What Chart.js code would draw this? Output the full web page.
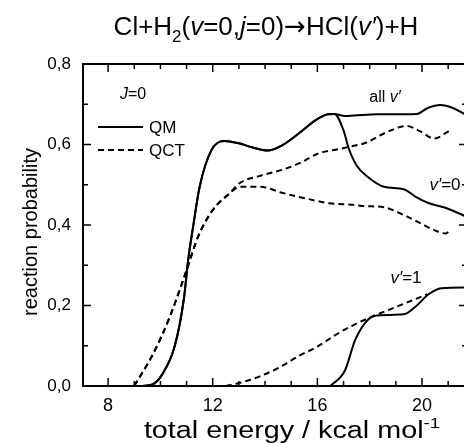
<!DOCTYPE html>
<html>
<head>
<meta charset="utf-8">
<script src="https://cdn.jsdelivr.net/npm/chart.js@4/dist/chart.umd.min.js"></script>
<style>
  html, body { margin: 0; padding: 0; overflow: hidden; background: #fff; }
  #wrap { width: 470px; height: 443px; }
</style>
</head>
<body>
<div id="wrap"><canvas id="c" width="470" height="443"></canvas></div>
<script>
// Total energy (kcal/mol) vs reaction probability, as [energy, probability] pairs
const energyLabels = [8, 12, 16, 20];
const probLabels = [0, 0.2, 0.4, 0.6, 0.8];

const qmAll = [[9.3,0],[9.7,0.004],[10.05,0.027],[10.55,0.1],[10.9,0.218],[11.06,0.313],[11.25,0.396],[11.5,0.495],[11.95,0.586],[12.45,0.609],[13.0,0.603],[13.5,0.593],[14.1,0.585],[14.65,0.598],[15.3,0.628],[15.95,0.661],[16.4,0.675],[16.65,0.676],[17.05,0.671],[17.4,0.672],[18.3,0.675],[19.8,0.676],[20.2,0.69],[20.7,0.698],[21.2,0.69],[21.72,0.672]];
const qmV0 = [[9.3,0],[9.7,0.004],[10.05,0.027],[10.55,0.1],[10.9,0.218],[11.06,0.313],[11.25,0.396],[11.5,0.495],[11.95,0.586],[12.45,0.609],[13.0,0.603],[13.5,0.593],[14.1,0.585],[14.65,0.598],[15.3,0.628],[15.95,0.661],[16.4,0.675],[16.65,0.676],[17.0,0.635],[17.2,0.59],[17.5,0.548],[17.92,0.52],[18.55,0.495],[19.3,0.489],[19.76,0.47],[20.27,0.454],[20.97,0.441],[21.72,0.42]];
const qmV1 = [[16.5,0],[17.05,0.038],[17.45,0.115],[17.95,0.166],[18.4,0.176],[19.3,0.178],[19.75,0.197],[20.25,0.228],[20.75,0.243],[21.72,0.245]];

const qctAll = [[9.0,0],[9.73,0.081],[10.36,0.172],[11.0,0.288],[11.44,0.371],[12.0,0.437],[12.65,0.479],[13.05,0.505],[13.8,0.522],[14.65,0.537],[15.3,0.553],[16.05,0.578],[16.85,0.589],[17.4,0.597],[17.8,0.603],[18.7,0.632],[19.4,0.646],[19.95,0.632],[20.45,0.615],[21.1,0.636]];
const qctV0 = [[9.0,0],[9.73,0.081],[10.36,0.172],[11.0,0.288],[11.44,0.371],[12.0,0.437],[12.65,0.479],[13.05,0.495],[13.8,0.495],[14.65,0.48],[15.55,0.466],[16.45,0.454],[17.4,0.45],[17.8,0.447],[18.55,0.444],[19.3,0.425],[19.95,0.404],[20.45,0.388],[20.9,0.379],[21.1,0.388]];
const qctV1 = [[12.5,0],[13.05,0.008],[13.8,0.024],[14.6,0.048],[15.3,0.075],[16.0,0.098],[16.85,0.133],[17.4,0.152],[18.0,0.17],[18.95,0.195],[20.2,0.228]];

const FONT = '"Liberation Sans", Arial, Helvetica, sans-serif';
const SYMBOL_FONT = '"DejaVu Sans", sans-serif';

function pts(arr) { return arr.map(p => ({ x: p[0], y: p[1] })); }

function line(label, data, dashed) {
  return {
    label: label,
    data: pts(data),
    borderColor: '#000',
    borderWidth: 2,
    borderDash: dashed ? [6, 4] : [],
    pointRadius: 0,
    fill: false,
    cubicInterpolationMode: 'monotone'
  };
}

// draws a run of text pieces (plain / italic / subscript / superscript);
// stretch widens the glyphs horizontally
function drawRuns(ctx, runs, x, y, size, align, stretch) {
  const sx = stretch || 1;
  const fontOf = r => {
    const s = (r.sub || r.sup) ? size * 0.65 : size;
    return (r.italic ? 'italic ' : '') + s + 'px ' + (r.family || FONT);
  };
  let total = 0;
  runs.forEach(r => { ctx.font = fontOf(r); total += ctx.measureText(r.t).width; });
  total *= sx;
  const start = align === 'center' ? x - total / 2 : (align === 'right' ? x - total : x);
  ctx.save();
  ctx.translate(start, y);
  ctx.scale(sx, 1);
  ctx.textBaseline = 'alphabetic';
  ctx.textAlign = 'left';
  let cx = 0;
  runs.forEach(r => {
    ctx.font = fontOf(r);
    const dy = r.sub ? size * 0.28 : (r.sup ? -size * 0.42 : 0);
    ctx.fillText(r.t, cx, dy);
    cx += ctx.measureText(r.t).width;
  });
  ctx.restore();
}

const framePlugin = {
  id: 'frame',
  afterDraw(chart) {
    const ctx = chart.ctx;
    const ca = chart.chartArea;
    const xs = chart.scales.x, ys = chart.scales.y;
    ctx.save();
    ctx.strokeStyle = '#000';
    ctx.fillStyle = '#000';
    ctx.lineWidth = 2;
    ctx.strokeRect(ca.left, ca.top, ca.right - ca.left, ca.bottom - ca.top);

    // inward ticks on all four sides
    ctx.lineWidth = 1.5;
    ctx.beginPath();
    for (let e = Math.ceil(xs.min); e <= xs.max; e++) {
      const px = xs.getPixelForValue(e);
      const len = energyLabels.includes(e) ? 8 : 5;
      ctx.moveTo(px, ca.bottom); ctx.lineTo(px, ca.bottom - len);
      ctx.moveTo(px, ca.top); ctx.lineTo(px, ca.top + len);
    }
    for (let k = 0; k <= 8; k++) {
      const py = ys.getPixelForValue(k / 10);
      const len = k % 2 === 0 ? 8 : 5;
      ctx.moveTo(ca.left, py); ctx.lineTo(ca.left + len, py);
      ctx.moveTo(ca.right, py); ctx.lineTo(ca.right - len, py);
    }
    ctx.stroke();

    // title
    drawRuns(ctx, [
      { t: 'Cl+H' }, { t: '2', sub: true }, { t: '(' }, { t: 'v', italic: true },
      { t: '=0,' }, { t: 'j', italic: true }, { t: '=0)' },
      { t: '\u2192', family: SYMBOL_FONT }, { t: 'HCl(' },
      { t: 'v\u2032', italic: true }, { t: ')+H' }
    ], 266, 35, 26, 'center');

    // axis titles
    drawRuns(ctx, [{ t: 'total energy / kcal mol' }, { t: '-1', sup: true }], 292, 438, 23, 'center', 1.25);
    ctx.save();
    ctx.translate(37, 232);
    ctx.rotate(-Math.PI / 2);
    drawRuns(ctx, [{ t: 'reaction probability' }], 0, 0, 20, 'center');
    ctx.restore();

    // J=0 and legend
    drawRuns(ctx, [{ t: 'J', italic: true }, { t: '=0' }], 133, 99, 16, 'center');
    const legend = [
      { ds: chart.data.datasets[0], text: 'QM', y: 127 },
      { ds: chart.data.datasets[3], text: 'QCT', y: 150 }
    ];
    legend.forEach(item => {
      ctx.lineWidth = item.ds.borderWidth;
      ctx.setLineDash(item.ds.borderDash);
      ctx.beginPath();
      ctx.moveTo(98, item.y); ctx.lineTo(143, item.y);
      ctx.stroke();
      ctx.setLineDash([]);
      drawRuns(ctx, [{ t: item.text }], 149, item.y + 6, 17, 'left');
    });

    // curve labels
    drawRuns(ctx, [{ t: 'all ' }, { t: 'v\u2032', italic: true }], 385, 102, 16, 'center');
    drawRuns(ctx, [{ t: 'v\u2032', italic: true }, { t: '=0' }], 445, 190, 17, 'center');
    drawRuns(ctx, [{ t: 'v\u2032', italic: true }, { t: '=1' }], 406, 283, 17, 'center');
    ctx.restore();
  }
};

new Chart(document.getElementById('c'), {
  type: 'line',
  data: {
    datasets: [
      line('QM all v\u2032', qmAll, false),
      line('QM v\u2032=0', qmV0, false),
      line('QM v\u2032=1', qmV1, false),
      line('QCT all v\u2032', qctAll, true),
      line('QCT v\u2032=0', qctV0, true),
      line('QCT v\u2032=1', qctV1, true)
    ]
  },
  options: {
    responsive: false,
    animation: false,
    clip: false,
    layout: { padding: { top: 64, right: 3, left: 0, bottom: 0 } },
    plugins: { legend: { display: false }, tooltip: { enabled: false }, title: { display: false } },
    scales: {
      x: {
        type: 'linear',
        min: 7.04,
        max: 21.72,
        grid: { display: false, drawTicks: false },
        border: { display: false },
        afterBuildTicks: s => { s.ticks = energyLabels.map(v => ({ value: v })); },
        afterFit: s => { s.height = 57; },
        ticks: { color: '#000', padding: 9, font: { family: FONT, size: 18 }, callback: v => String(v) }
      },
      y: {
        min: 0,
        max: 0.8,
        grid: { display: false, drawTicks: false },
        border: { display: false },
        afterBuildTicks: s => { s.ticks = probLabels.map(v => ({ value: v })); },
        afterFit: s => { s.width = 83; },
        ticks: { color: '#000', padding: 12, font: { family: FONT, size: 17 }, callback: v => v.toFixed(1).replace('.', ',') }
      }
    }
  },
  plugins: [framePlugin]
});
</script>
</body>
</html>
